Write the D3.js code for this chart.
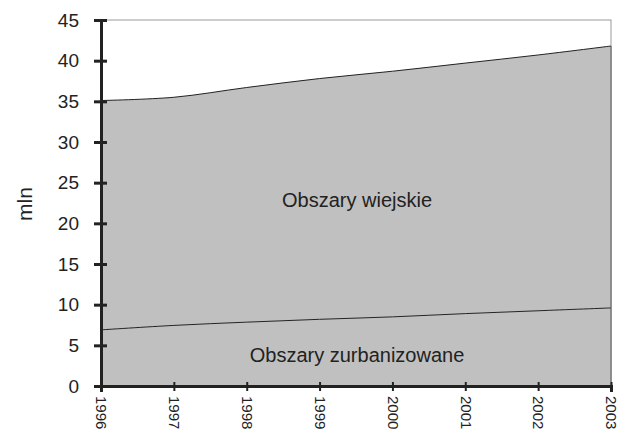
<!DOCTYPE html>
<html>
<head>
<meta charset="utf-8">
<script src="https://cdn.jsdelivr.net/npm/d3@7"></script>
<style>
  body { margin: 0; background: #fff; }
  text { font-family: "Liberation Sans", Arial, sans-serif; fill: #222; }
</style>
</head>
<body>
<script>
// years on the x axis
let years = [1996, 1997, 1998, 1999, 2000, 2001, 2002, 2003];
// urban population, mln
let urban = [6.9, 7.45, 7.85, 8.2, 8.5, 8.9, 9.25, 9.6];
// rural population, mln (stacked on top of urban)
let rural = [28.2, 28.05, 28.85, 29.6, 30.2, 30.8, 31.45, 32.2];
let yTicks = [0, 5, 10, 15, 20, 25, 30, 35, 40, 45];

let width = 620;
let height = 432;
let margin = { top: 20, right: 8, bottom: 46, left: 101 };

let svg = d3.select("body")
    .append("svg")
    .attr("width", width)
    .attr("height", height);

let x = d3.scaleLinear()
    .domain([1996, 2003])
    .range([margin.left, width - margin.right - 1]);

let y = d3.scaleLinear()
    .domain([0, 45])
    .range([height - margin.bottom, margin.top]);

let rows = years.map((yr, i) => ({ year: yr, urban: urban[i], rural: rural[i] }));
let stacked = d3.stack().keys(["urban", "rural"])(rows);

let area = d3.area()
    .x(d => x(d.data.year))
    .y0(d => y(d[0]))
    .y1(d => y(d[1]))
    .curve(d3.curveCatmullRom);

let line = d3.line()
    .x(d => x(d.data.year))
    .y(d => y(d[1]))
    .curve(d3.curveCatmullRom);

// plot frame
svg.append("rect")
    .attr("x", x(1996))
    .attr("y", y(45))
    .attr("width", x(2003) - x(1996))
    .attr("height", y(0) - y(45))
    .style("fill", "none")
    .style("stroke", "#999")
    .style("stroke-width", 1);

// stacked areas
svg.selectAll("path.area")
    .data(stacked)
    .enter()
    .append("path")
    .attr("class", "area")
    .attr("d", area)
    .style("fill", "#c0c0c0")
    .style("stroke", "none");

svg.selectAll("path.edge")
    .data(stacked)
    .enter()
    .append("path")
    .attr("class", "edge")
    .attr("d", line)
    .style("fill", "none")
    .style("stroke", "#222")
    .style("stroke-width", 1);

// right edge of the fill
svg.append("line")
    .attr("x1", x(2003)).attr("x2", x(2003))
    .attr("y1", y(0)).attr("y2", y(urban[7] + rural[7]))
    .style("stroke", "#555")
    .style("stroke-width", 1);

// y axis
let yAxis = svg.append("g")
    .attr("transform", "translate(" + x(1996) + ",0)")
    .call(d3.axisLeft(y).tickValues(yTicks).tickSize(7).tickPadding(15));
yAxis.select(".domain").style("stroke", "#222").style("stroke-width", 3);
yAxis.selectAll(".tick line")
    .attr("x1", -7).attr("x2", 6)
    .style("stroke", "#222").style("stroke-width", 3);
yAxis.selectAll(".tick text")
    .style("font-size", "19px")
    .style("font-family", "'Liberation Sans', Arial, sans-serif")
    .style("fill", "#222");

// x axis
let xAxis = svg.append("g")
    .attr("transform", "translate(0," + y(0) + ")")
    .call(d3.axisBottom(x).tickValues(years).tickFormat(d3.format("d")).tickSize(6));
xAxis.select(".domain").style("stroke", "#222").style("stroke-width", 3);
xAxis.selectAll(".tick line")
    .attr("y1", -4).attr("y2", 5)
    .style("stroke", "#222").style("stroke-width", 2);
xAxis.selectAll(".tick text")
    .attr("transform", "rotate(90)")
    .attr("x", 10)
    .attr("y", 0)
    .attr("dy", "0.35em")
    .style("text-anchor", "start")
    .style("font-size", "15px")
    .style("font-family", "'Liberation Sans', Arial, sans-serif")
    .style("fill", "#222");

// y axis title
svg.append("text")
    .attr("transform", "translate(32,204) rotate(-90)")
    .style("text-anchor", "middle")
    .style("font-size", "21px")
    .text("mln");

// area labels
svg.append("text")
    .attr("x", 357)
    .attr("y", 207)
    .style("text-anchor", "middle")
    .style("font-size", "20px")
    .text("Obszary wiejskie");

svg.append("text")
    .attr("x", 357)
    .attr("y", 362)
    .style("text-anchor", "middle")
    .style("font-size", "20px")
    .text("Obszary zurbanizowane");
</script>
</body>
</html>
